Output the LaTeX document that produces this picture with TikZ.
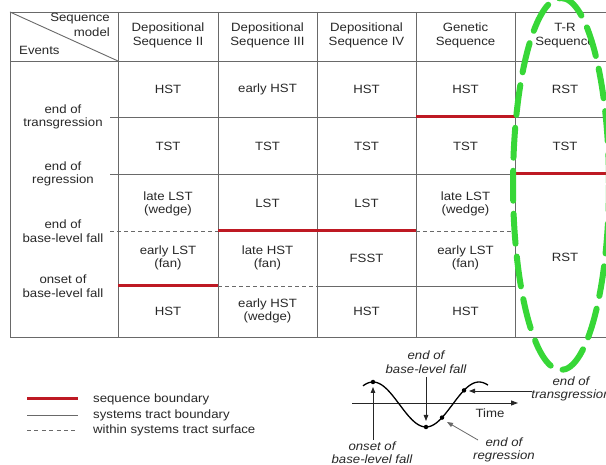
\documentclass[tikz,border=0pt]{standalone}
\usepackage{fontspec}
\setmainfont{Liberation Sans}[FakeStretch=1.1]
\usetikzlibrary{arrows.meta}
\definecolor{gridgray}{RGB}{105,105,105}
\definecolor{sbred}{RGB}{190,25,35}
\definecolor{ellgreen}{RGB}{55,215,55}
\definecolor{txtgray}{RGB}{40,40,40}
\tikzset{
  cell/.style={align=center,inner sep=0pt,text=txtgray,font=\fontsize{12}{13.5}\selectfont},
  evt/.style={cell},
  lbl/.style={align=center,inner sep=0pt,text=txtgray,font=\fontsize{12}{13.5}\selectfont\itshape},
  leg/.style={anchor=west,inner sep=0pt,text=txtgray,font=\fontsize{12}{14}\selectfont},
  stline/.style={draw=gridgray,line width=0.9pt},
  sbline/.style={draw=sbred,line width=3pt},
  wsline/.style={draw=gridgray,line width=0.9pt,dash pattern=on 4pt off 3pt},
  dotpt/.style={circle,fill=black,inner sep=0pt,minimum size=4.5pt},
  arr/.style={draw=black!85,line width=0.8pt,-{Triangle[length=6pt,width=4.5pt]}},
  greenell/.style={draw=ellgreen,line width=6pt,dash pattern=on 30pt off 13pt,line cap=round}
}
\begin{document}
\begin{tikzpicture}[x=1pt,y=-1pt]
\useasboundingbox (0,0) rectangle (606,465);
\clip (0,0) rectangle (606,465);
\fill[white] (0,0) rectangle (606,465);
% ---- grid coordinates
\foreach \n/\x in {0/10,1/118,2/218,3/317,4/416,5/515,6/620}{
  \foreach \m/\y in {0/12,1/61,2/117,3/174,4/231,5/286,6/337}{
    \coordinate (g\n-\m) at (\x,\y);
  }
}
\coordinate (s2) at (110,117);
\coordinate (s3) at (110,174);
\coordinate (s4) at (110,231);
% outer frame and verticals
\path[stline] (g6-0) -- (g0-0) -- (g0-6) -- (g6-6);
\path[stline] (g0-1) -- (g6-1);
\foreach \n in {1,...,5}{ \path[stline] (g\n-0) -- (g\n-6); }
\path[stline] (g0-0) -- (g1-1);
% row lines
\path[stline] (s2) -- (g4-2);
\path[stline] (g5-2) -- (g6-2);
\path[stline] (s3) -- (g5-3);
\path[wsline] (s4) -- (g2-4);
\path[wsline] (g4-4) -- (g5-4);
\path[wsline] (g2-5) -- (g3-5);
\path[stline] (g3-5) -- (g5-5);
\path[sbline] (g4-2) -- (g5-2);
\path[sbline] (g5-3) -- (g6-3);
\path[sbline] (g2-4) -- (g4-4);
\path[sbline] (g1-5) -- (g2-5);
% header
\node[cell,anchor=east] (hseq) at (110,19) {Sequence};
\node[cell,anchor=east] (hmod) at (110,32) {model};
\node[cell,anchor=west] (hev) at (19,50) {Events};
\node[cell] (h1) at (168,35.5) {Depositional\\Sequence II};
\node[cell] (h2) at (267.5,35.5) {Depositional\\Sequence III};
\node[cell] (h3) at (366.5,35.5) {Depositional\\Sequence IV};
\node[cell] (h4) at (465.5,35.5) {Genetic\\Sequence};
\node[cell] (h5) at (565,35.5) {T-R\\Sequence};
% events
\node[evt] (e1) at (63,117) {end of\\transgression};
\node[evt] (e2) at (63,174) {end of\\regression};
\node[evt] (e3) at (63,231) {end of\\base-level fall};
\node[evt] (e4) at (63,286) {onset of\\base-level fall};
% row 1
\node[cell] (c11) at (168,89) {HST};
\node[cell] (c12) at (267.5,89) {early HST};
\node[cell] (c13) at (366.5,89) {HST};
\node[cell] (c14) at (465.5,89) {HST};
\node[cell] (c15) at (565,89) {RST};
% row 2
\node[cell] (c21) at (168,146) {TST};
\node[cell] (c22) at (267.5,146) {TST};
\node[cell] (c23) at (366.5,146) {TST};
\node[cell] (c24) at (465.5,146) {TST};
\node[cell] (c25) at (565,146) {TST};
% row 3
\node[cell] (c31) at (168,204) {late LST\\(wedge)};
\node[cell] (c32) at (267.5,203) {LST};
\node[cell] (c33) at (366.5,203) {LST};
\node[cell] (c34) at (465.5,204) {late LST\\(wedge)};
\node[cell] (c35) at (565,257) {RST};
% row 4
\node[cell] (c41) at (168,258) {early LST\\(fan)};
\node[cell] (c42) at (267.5,258) {late HST\\(fan)};
\node[cell] (c43) at (366.5,258) {FSST};
\node[cell] (c44) at (465.5,258) {early LST\\(fan)};
% row 5
\node[cell] (c51) at (168,311) {HST};
\node[cell] (c52) at (267.5,311) {early HST\\(wedge)};
\node[cell] (c53) at (366.5,311) {HST};
\node[cell] (c54) at (465.5,311) {HST};
% legend
\coordinate (l1a) at (27,399); \coordinate (l1b) at (78,399);
\coordinate (l2a) at (27,415); \coordinate (l2b) at (78,415);
\coordinate (l3a) at (27,430); \coordinate (l3b) at (78,430);
\path[sbline] (l1a) -- (l1b);
\path[stline] (l2a) -- (l2b);
\path[wsline,dash pattern=on 4pt off 3.4pt] (l3a) -- (l3b);
\node[leg] (t1) at (93,399) {sequence boundary};
\node[leg] (t2) at (93,415) {systems tract boundary};
\node[leg] (t3) at (93,430) {within systems tract surface};
% base-level curve
\coordinate (ax0) at (352,403);
\coordinate (ax1) at (518,403);
\draw[line width=0.9pt,draw=black!85,-{Triangle[length=7pt,width=5pt]}] (ax0) -- (ax1);
\draw[line width=1.3pt] plot[domain=-10:115,samples=80,smooth] ({373+\x},{404.5-22.5*cos(\x/106*360)});
\node[dotpt] (pk) at (373,382) {};
\node[dotpt] (tr) at (426,427) {};
\node[dotpt] (et) at (464,390.4) {};
\node[dotpt] (er) at (442,417.6) {};
\node[lbl] (lblf) at (426,362) {end of\\base-level fall};
\node[lbl] (lons) at (372,452.5) {onset of\\base-level fall};
\node[lbl] (ltr) at (571,389) {end of\\transgression};
\node[lbl] (lreg) at (504,450) {end of\\regression};
\node[inner sep=0pt,text=txtgray,font=\fontsize{12}{14}\selectfont] (time) at (490,413) {Time};
\coordinate (a1s) at (426,377);
\coordinate (a1e) at (426,421);
\draw[arr] (a1s) -- (a1e);
\coordinate (a2s) at (373,440);
\coordinate (a2e) at (373,387);
\draw[arr] (a2s) -- (a2e);
\coordinate (a3s) at (532,391);
\coordinate (a3e) at (469,391);
\draw[arr] (a3s) -- (a3e);
\coordinate (a4s) at (478,440);
\coordinate (a4e) at (447,422);
\draw[arr,draw=gridgray] (a4s) -- (a4e);
% green ellipse
\coordinate (ec) at (561,184);
\draw[greenell] (ec) ellipse [x radius=48pt, y radius=186pt];
\end{tikzpicture}
\end{document}
